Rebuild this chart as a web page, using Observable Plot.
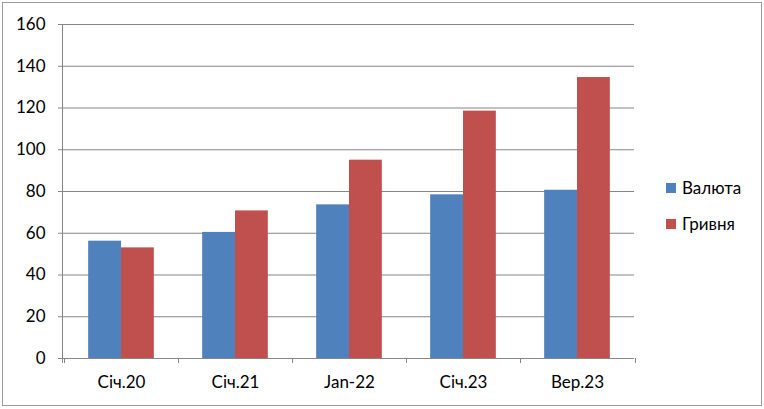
<!DOCTYPE html>
<html>
<head>
<meta charset="utf-8">
<script src="https://cdn.jsdelivr.net/npm/d3@7"></script>
<script src="https://cdn.jsdelivr.net/npm/@observablehq/plot@0.6"></script>
<style>
  html, body { margin: 0; padding: 0; background: #fff; }
  #wrap { position: relative; width: 764px; height: 409px; font-family: Lato, "Open Sans", sans-serif; }
  #wrap svg { position: absolute; left: 0; top: 0; }
  #border { position: absolute; left: 2px; top: 2px; width: 758px; height: 402px; border: 1px solid #9a9a9a; pointer-events: none; }
  .leg { position: absolute; left: 666px; display: flex; align-items: center; font-size: 17px; color: #000; }
  .leg span.sw { display: inline-block; width: 10px; height: 10px; margin-right: 6px; }
</style>
</head>
<body>
<div id="wrap"><div id="border"></div></div>
<script>
const categories = ["Січ.20", "Січ.21", "Jan-22", "Січ.23", "Вер.23"];
const series = ["Валюта", "Гривня"];
const valuta = [56.2, 60.4, 73.6, 78.4, 80.6];
const hryvnia = [53.0, 70.7, 95.0, 118.5, 134.6];
const yTicks = [0, 20, 40, 60, 80, 100, 120, 140, 160];
const colors = ["#4F81BD", "#C0504D"];

const data = categories.flatMap((c, i) => [
  {cat: c, series: series[0], value: valuta[i]},
  {cat: c, series: series[1], value: hryvnia[i]}
]);

const gridColor = "#868686";
const plot = Plot.plot({
  width: 764,
  height: 409,
  marginLeft: 62,
  marginRight: 129,
  marginTop: 24,
  marginBottom: 51,
  style: {fontFamily: "Lato, 'Open Sans', sans-serif", fontSize: "17px", color: "#000", background: "transparent", overflow: "visible"},
  fx: {domain: categories, paddingInner: 0, paddingOuter: 0, label: null, tickSize: 0, tickPadding: 17},
  x: {domain: series, paddingInner: 0, paddingOuter: 0.736, axis: null, round: false},
  y: {domain: [0, 160], ticks: yTicks, label: null, tickSize: 6, tickPadding: 13},
  color: {domain: series, range: colors},
  marks: [
    Plot.ruleY(yTicks, {stroke: gridColor, strokeOpacity: 1}),
    Plot.barY(data, {fx: "cat", x: "series", y: "value", fill: "series"}),
    Plot.ruleY([0], {stroke: gridColor, strokeOpacity: 1})
  ]
});

const wrap = document.getElementById("wrap");
wrap.insertBefore(plot, wrap.firstChild);

const svg = d3.select(plot.tagName.toLowerCase() === "svg" ? plot : plot.querySelector("svg"));
svg.selectAll("g[aria-label^='y-axis'] line, g[aria-label^='y-axis'] path").attr("stroke", gridColor).attr("stroke-opacity", 1);

const ys = plot.scale("y");
const fxs = plot.scale("fx");
const y0 = ys.apply(0), y1 = ys.apply(160);
const left = fxs.range[0], right = fxs.range[1];
const extra = svg.append("g").attr("stroke", gridColor).attr("stroke-width", 1);
extra.append("line").attr("x1", left + 0.5).attr("x2", left + 0.5).attr("y1", y1).attr("y2", y0 + 5);
const bounds = categories.map(c => fxs.apply(c)).concat([right]);
bounds.forEach(b => {
  extra.append("line").attr("x1", Math.round(b) + 0.5).attr("x2", Math.round(b) + 0.5).attr("y1", y0).attr("y2", y0 + 5);
});

series.forEach((s, i) => {
  const d = document.createElement("div");
  d.className = "leg";
  d.style.top = (177 + i * 36) + "px";
  d.innerHTML = `<span class="sw" style="background:${colors[i]}"></span><span>${s}</span>`;
  wrap.appendChild(d);
});
</script>
</body>
</html>
